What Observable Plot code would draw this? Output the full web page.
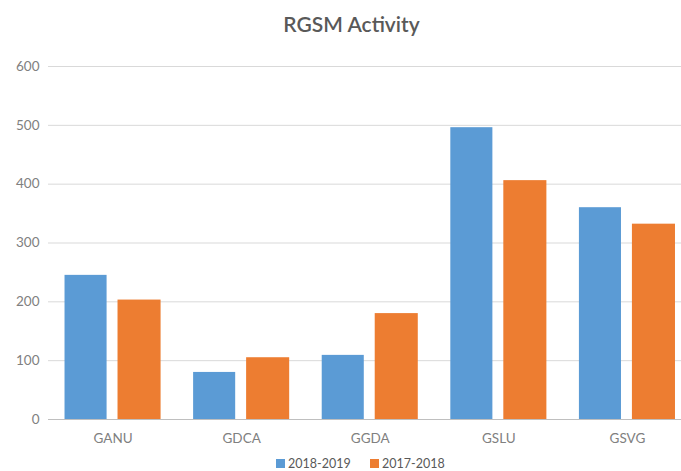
<!DOCTYPE html>
<html>
<head>
<meta charset="utf-8">
<script src="https://cdn.jsdelivr.net/npm/d3@7"></script>
<script src="https://cdn.jsdelivr.net/npm/@observablehq/plot@0.6"></script>
<style>
  html, body { margin: 0; padding: 0; background: #fff; }
  body { width: 681px; height: 471px; overflow: hidden; font-family: Lato, "Open Sans", sans-serif; }
  #title { height: 50px; box-sizing: border-box; padding-top: 11px; padding-left: 22px; text-align: center;
           font-size: 21px; font-weight: 600; color: #595959; line-height: 26px; }
  #chart svg { display: block; }
  #legend { position: relative; height: 21px; font-size: 12.5px; color: #595959; }
  .item { position: absolute; top: 6px; display: flex; align-items: center; gap: 3px; line-height: 15px; }
  .sw { width: 9px; height: 9px; display: inline-block; }
</style>
</head>
<body>
<div id="title">RGSM Activity</div>
<div id="chart"></div>
<div id="legend"></div>
<script>
const categories = ["GANU", "GDCA", "GGDA", "GSLU", "GSVG"];
const series = ["2018-2019", "2017-2018"];
const values2018_2019 = [245, 80, 109, 496, 360];
const values2017_2018 = [203, 105, 180, 406, 332];
const yTicks = [0, 100, 200, 300, 400, 500, 600];
const colors = ["#5B9BD5", "#ED7D31"];

const rows = [];
categories.forEach((c, i) => {
  rows.push({category: c, series: series[0], value: values2018_2019[i]});
  rows.push({category: c, series: series[1], value: values2017_2018[i]});
});

const plot = Plot.plot({
  width: 681,
  height: 400,
  marginLeft: 48,
  marginRight: 0,
  marginTop: 16,
  marginBottom: 31,
  style: {fontFamily: "Lato, 'Open Sans', sans-serif", fontSize: "13.5px", color: "#808080", background: "#fff", overflow: "hidden"},
  x: {domain: categories, range: [48.25, 691.25], round: false, paddingInner: 0.253, paddingOuter: 0.1265,
      label: null, tickSize: 0, tickPadding: 14},
  y: {domain: [0, 600], ticks: yTicks, label: null, tickSize: 0, tickPadding: 9},
  color: {domain: series, range: colors},
  marks: [
    Plot.ruleY(yTicks.filter(d => d > 0), {stroke: "#d9d9d9", strokeWidth: 1}),
    Plot.barY(rows.filter(d => d.series === series[0]), {x: "category", y: "value", fill: "series", insetRight: 54}),
    Plot.barY(rows.filter(d => d.series === series[1]), {x: "category", y: "value", fill: "series", insetLeft: 53}),
    Plot.ruleY([0], {stroke: "#bfbfbf", strokeWidth: 1})
  ]
});
document.getElementById("chart").appendChild(plot);

const legend = document.getElementById("legend");
const legendLeft = [276, 370];
series.forEach((s, i) => {
  const item = document.createElement("div");
  item.className = "item";
  item.style.left = legendLeft[i] + "px";
  const sw = document.createElement("span");
  sw.className = "sw";
  sw.style.background = colors[i];
  const t = document.createElement("span");
  t.textContent = s;
  item.appendChild(sw);
  item.appendChild(t);
  legend.appendChild(item);
});
</script>
</body>
</html>
